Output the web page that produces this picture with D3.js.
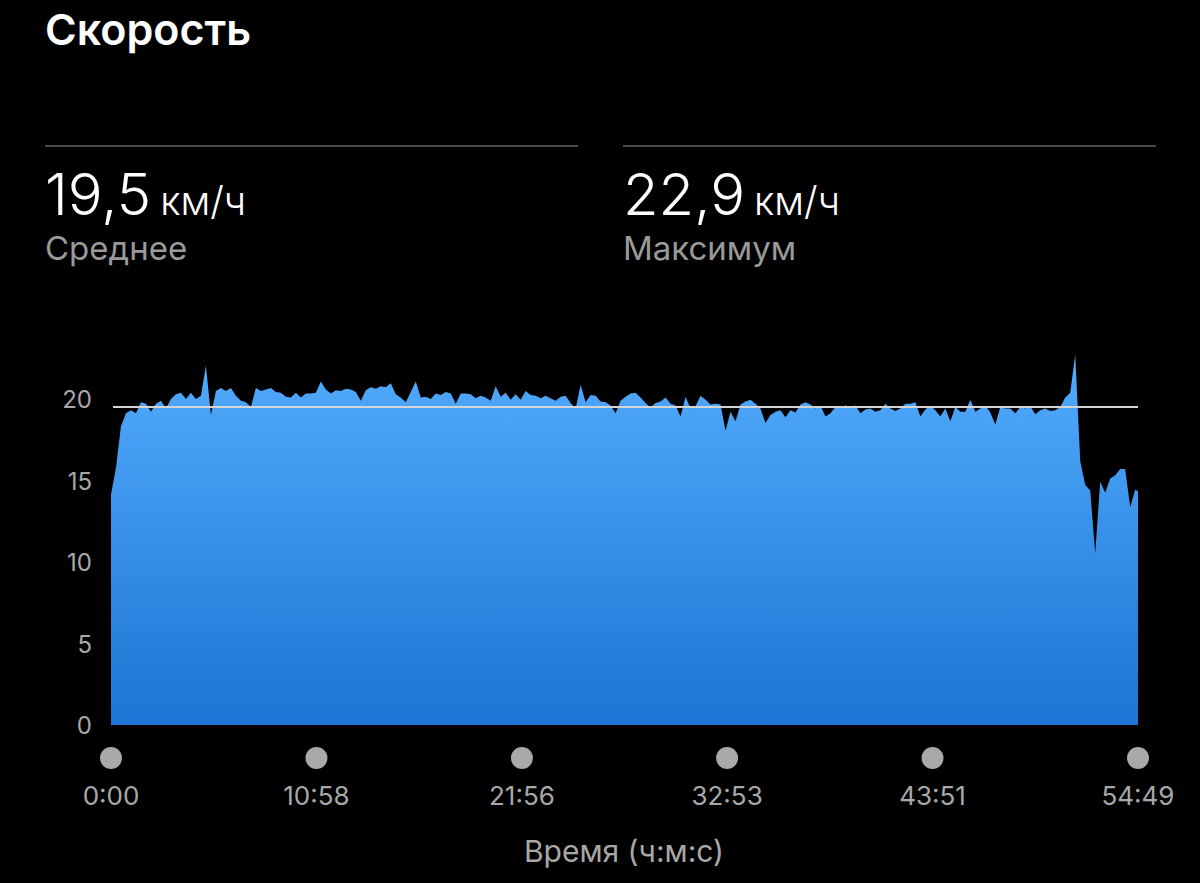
<!DOCTYPE html>
<html>
<head>
<meta charset="utf-8">
<script src="https://cdn.jsdelivr.net/npm/d3@7"></script>
<style>
  html, body { margin: 0; padding: 0; background: #000; }
  svg { display: block; font-family: Inter, "Noto Sans", sans-serif; }
</style>
</head>
<body>
<script>
// speed samples, one every 16 s, km/h
var sampleStep = 16;
var duration = 3289; // 54:49
var speedKmh = [
  14.5, 16.2, 18.8, 19.6, 19.8, 19.6, 20.3, 20.2, 19.7, 20.2,
  20.4, 19.9, 20.5, 20.8, 20.9, 20.5, 20.9, 20.5, 20.7, 22.6,
  19.5, 21.0, 21.2, 21.0, 21.2, 20.7, 20.4, 20.3, 20.0, 21.2,
  21.0, 21.1, 21.2, 20.95, 20.9, 20.65, 20.6, 20.9, 20.6, 20.85,
  20.85, 20.9, 21.6, 21.1, 20.85, 21.05, 21.0, 21.15, 21.1, 20.95,
  20.4, 21.05, 21.25, 21.15, 21.3, 21.25, 21.5, 20.8, 20.6, 20.3,
  20.95, 21.6, 20.6, 20.65, 20.5, 20.85, 20.75, 20.95, 20.85, 20.2,
  20.85, 20.85, 20.8, 20.55, 20.7, 20.6, 20.4, 21.3, 20.65, 20.9,
  20.45, 20.8, 20.45, 21.0, 20.75, 20.7, 20.55, 20.7, 20.55, 20.4,
  20.65, 20.7, 20.25, 19.9, 21.4, 20.3, 20.75, 20.7, 20.35, 20.3,
  20.1, 19.6, 20.4, 20.65, 20.85, 20.9, 20.6, 20.25, 19.95, 20.25,
  20.35, 20.6, 20.2, 20.1, 19.4, 20.65, 19.9, 20.05, 20.7, 20.45,
  20.15, 20.2, 20.15, 18.5, 19.7, 19.1, 20.15, 20.35, 20.45, 20.2,
  19.9, 19.0, 19.5, 19.7, 19.8, 19.35, 19.8, 19.65, 20.15, 20.3,
  20.15, 19.9, 20.1, 19.4, 19.6, 20.0, 20.0, 20.1, 20.0, 20.1,
  19.6, 19.85, 19.9, 19.7, 19.8, 20.2, 19.9, 19.75, 19.9, 20.2,
  20.2, 20.3, 19.4, 19.85, 20.1, 19.8, 19.4, 19.9, 19.1, 20.0,
  19.7, 19.7, 20.45, 19.7, 19.9, 20.1, 19.65, 18.9, 20.0, 19.9,
  19.9, 19.6, 20.0, 19.9, 20.05, 19.55, 19.8, 19.9, 19.75, 19.8,
  20.0, 20.6, 20.9, 23.3, 16.6, 15.1, 14.75, 10.8, 15.3, 14.6,
  15.5, 15.7, 16.1, 16.1, 13.7, 14.8, 14.7
];
var yTicks = [0, 5, 10, 15, 20];
var xTicks = [0, 658, 1316, 1973, 2631, 3289];
var xTickLabels = ['0:00', '10:58', '21:56', '32:53', '43:51', '54:49'];
var refValue = 20;
var stats = [
  {value: '19,5', unit: 'км/ч', label: 'Среднее'},
  {value: '22,9', unit: 'км/ч', label: 'Максимум'}
];

var points = speedKmh.map(function (v, i) {
  return {t: Math.min(i * sampleStep, duration), v: v};
});

var svg = d3.select('body').append('svg')
    .attr('width', 1200)
    .attr('height', 883);

var x = d3.scaleLinear().domain([0, duration]).range([111, 1138]);
var y = d3.scaleLinear().domain([0, 20]).range([725, 407]);
// tick labels sit on a slightly wider spacing than the plot itself
var yLabel = d3.scaleLinear().domain([0, 20]).range([726, 400]);

// header
svg.append('text')
    .attr('x', 45).attr('y', 45)
    .attr('fill', '#fff')
    .attr('font-size', 43).attr('font-weight', 600)
    .text('Скорость');

var statG = svg.selectAll('g.stat')
    .data(stats)
    .enter().append('g')
    .attr('class', 'stat')
    .attr('transform', function (d, i) { return 'translate(' + (45 + i * 578) + ',0)'; });

statG.append('line')
    .attr('x1', 0).attr('x2', 533)
    .attr('y1', 146).attr('y2', 146)
    .attr('stroke', '#4a4a4a').attr('stroke-width', 2);

var valText = statG.append('text')
    .attr('x', 0).attr('y', 215)
    .attr('fill', '#fff');
valText.append('tspan')
    .attr('font-size', 58).attr('font-weight', 300)
    .text(function (d) { return d.value; });
valText.append('tspan')
    .attr('font-size', 39).attr('font-weight', 300)
    .attr('dx', 9)
    .text(function (d) { return d.unit; });

statG.append('text')
    .attr('x', 0).attr('y', 260)
    .attr('fill', '#9a9a9a')
    .attr('font-size', 33)
    .text(function (d) { return d.label; });

// gradient for the area
var grad = svg.append('defs').append('linearGradient')
    .attr('id', 'fillGrad')
    .attr('gradientUnits', 'userSpaceOnUse')
    .attr('x1', 0).attr('x2', 0)
    .attr('y1', y(22)).attr('y2', y(0));
grad.append('stop').attr('offset', '0%').attr('stop-color', '#50a8fb');
grad.append('stop').attr('offset', '100%').attr('stop-color', '#1c74d4');

var area = d3.area()
    .x(function (d) { return x(d.t); })
    .y0(y(0))
    .y1(function (d) { return y(d.v); });

svg.append('path')
    .datum(points)
    .attr('d', area)
    .attr('fill', 'url(#fillGrad)');

// reference line
svg.append('line')
    .attr('x1', x(0) + 2).attr('x2', x(duration))
    .attr('y1', y(refValue)).attr('y2', y(refValue))
    .attr('stroke', '#d4d4d4').attr('stroke-width', 2);

// y labels
svg.selectAll('text.ytick')
    .data(yTicks)
    .enter().append('text')
    .attr('class', 'ytick')
    .attr('x', 92)
    .attr('y', function (d) { return yLabel(d); })
    .attr('dy', '0.35em')
    .attr('text-anchor', 'end')
    .attr('fill', '#a8a8a8')
    .attr('font-size', 24)
    .text(function (d) { return d; });

// x axis: dots and labels
svg.selectAll('circle.xdot')
    .data(xTicks)
    .enter().append('circle')
    .attr('class', 'xdot')
    .attr('cx', function (d) { return x(d); })
    .attr('cy', 758)
    .attr('r', 11)
    .attr('fill', '#a9a9a9');

svg.selectAll('text.xtick')
    .data(xTicks)
    .enter().append('text')
    .attr('class', 'xtick')
    .attr('x', function (d) { return x(d); })
    .attr('y', 805)
    .attr('text-anchor', 'middle')
    .attr('fill', '#a8a8a8')
    .attr('font-size', 26)
    .text(function (d, i) { return xTickLabels[i]; });

svg.append('text')
    .attr('x', 624).attr('y', 862)
    .attr('text-anchor', 'middle')
    .attr('fill', '#a8a8a8')
    .attr('font-size', 30)
    .text('Время (ч:м:с)');
</script>
</body>
</html>
